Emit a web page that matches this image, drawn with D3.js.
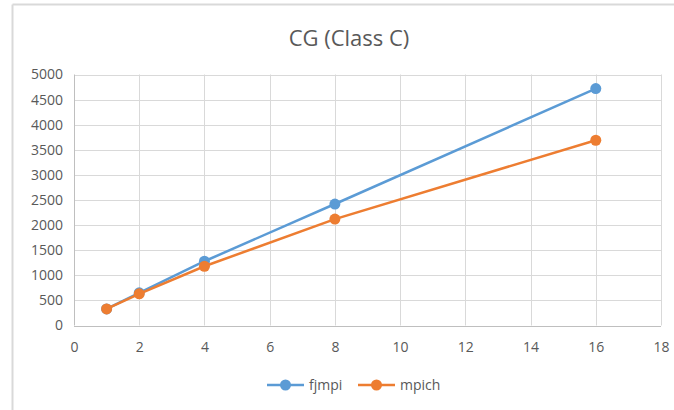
<!DOCTYPE html>
<html><head><meta charset="utf-8">
<script src="https://cdn.jsdelivr.net/npm/d3@7"></script>
<style>body{margin:0;background:#fff}svg{display:block}</style>
</head><body>
<script>
const title = "CG (Class C)";
const procs = [1, 2, 4, 8, 16];
const fjmpi = [330, 650, 1280, 2420, 4720];
const mpich = [330, 630, 1180, 2120, 3690];
const seriesNames = ["fjmpi", "mpich"];
const seriesColors = ["#5b9bd5", "#ed7d31"];
const xTicks = [0, 2, 4, 6, 8, 10, 12, 14, 16, 18];
const yTicks = [0, 500, 1000, 1500, 2000, 2500, 3000, 3500, 4000, 4500, 5000];

const W = 674, H = 410;
const svg = d3.select("body").append("svg").attr("width", W).attr("height", H);
const font = "'Open Sans', 'Liberation Sans', sans-serif";

// chart border (left & top visible)
svg.append("line").attr("x1", 12.5).attr("x2", 12.5).attr("y1", 4.5).attr("y2", H).attr("stroke", "#d9d9d9").attr("stroke-width", 2);
svg.append("line").attr("x1", 12.5).attr("x2", W).attr("y1", 4.5).attr("y2", 4.5).attr("stroke", "#d9d9d9").attr("stroke-width", 2);

const x = d3.scaleLinear().domain([0, 18]).range([74, 661]);
const y = d3.scaleLinear().domain([0, 5000]).range([325.5, 74.5]);

// grid
const g = svg.append("g");
g.selectAll(".hg").data(yTicks).enter().append("line")
  .attr("x1", x(0)).attr("x2", x(18)).attr("y1", d => Math.round(y(d)) + 0.5).attr("y2", d => Math.round(y(d)) + 0.5)
  .attr("stroke", d => d === 0 ? "#bfbfbf" : "#d9d9d9").attr("stroke-width", 1);
g.selectAll(".vg").data(xTicks).enter().append("line")
  .attr("y1", y(0)).attr("y2", y(5000)).attr("x1", d => Math.round(x(d)) + 0.5).attr("x2", d => Math.round(x(d)) + 0.5)
  .attr("stroke", d => d === 0 ? "#bfbfbf" : "#d9d9d9").attr("stroke-width", 1);

// axes labels via d3 axes
const xAxis = svg.append("g").attr("transform", `translate(0,${y(0)})`)
  .call(d3.axisBottom(x).tickValues(xTicks).tickFormat(d3.format("d")).tickSize(0).tickPadding(17));
const yAxis = svg.append("g").attr("transform", `translate(${x(0)},0)`)
  .call(d3.axisLeft(y).tickValues(yTicks).tickFormat(d3.format("d")).tickSize(0).tickPadding(11));
[xAxis, yAxis].forEach(a => {
  a.select(".domain").remove();
  a.selectAll("text").attr("fill", "#595959").style("font-family", font).style("font-size", "14px");
});

// title
svg.append("text").attr("x", 349).attr("y", 46).attr("text-anchor", "middle")
  .attr("fill", "#595959").style("font-family", font).style("font-size", "22px").text(title);

// series
const data = [fjmpi, mpich];
const line = d3.line().x((d, i) => x(procs[i])).y(d => y(d));
data.forEach((vals, si) => {
  svg.append("path").datum(vals).attr("d", line).attr("fill", "none")
    .attr("stroke", seriesColors[si]).attr("stroke-width", 2.5);
  svg.selectAll(null).data(vals).enter().append("circle")
    .attr("cx", (d, i) => x(procs[i])).attr("cy", d => y(d)).attr("r", 5.5)
    .attr("fill", seriesColors[si]);
});

// legend
const legX = [267, 358];
seriesNames.forEach((name, i) => {
  const lg = svg.append("g").attr("transform", `translate(${legX[i]},385)`);
  lg.append("line").attr("x1", 0).attr("x2", 37).attr("y1", 0).attr("y2", 0)
    .attr("stroke", seriesColors[i]).attr("stroke-width", 2.5);
  lg.append("circle").attr("cx", 18.5).attr("cy", 0).attr("r", 5.5).attr("fill", seriesColors[i]);
  lg.append("text").attr("x", 42).attr("y", 0).attr("dy", "0.35em")
    .attr("fill", "#595959").style("font-family", font).style("font-size", "14px").text(name);
});
</script>
</body></html>
